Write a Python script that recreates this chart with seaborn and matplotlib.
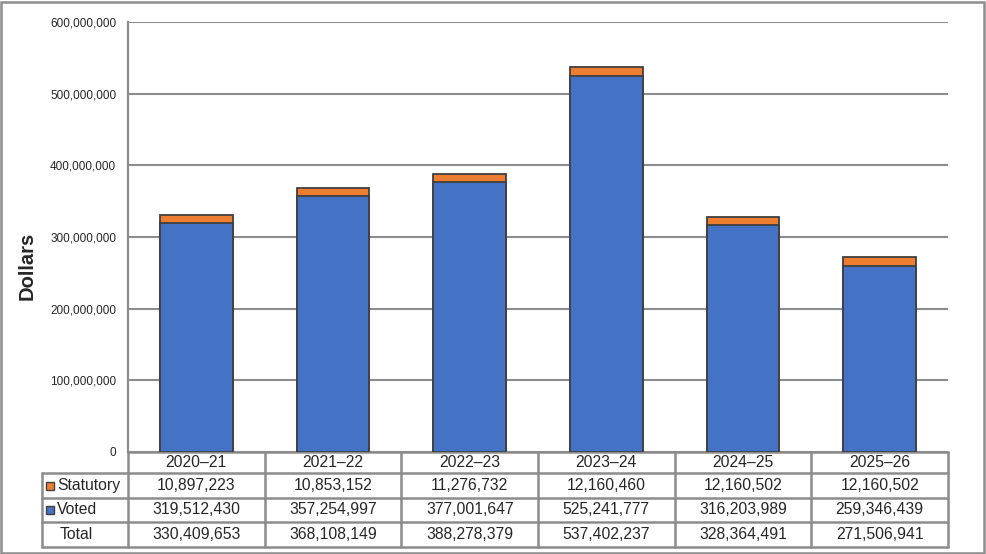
import numpy as np
import pandas as pd
import matplotlib
matplotlib.use("Agg")
import matplotlib.pyplot as plt
import matplotlib.patches as mpatches
from matplotlib.ticker import FuncFormatter
import seaborn as sns

years = ["2020–21", "2021–22", "2022–23", "2023–24", "2024–25", "2025–26"]
statutory = [10897223, 10853152, 11276732, 12160460, 12160502, 12160502]
voted = [319512430, 357254997, 377001647, 525241777, 316203989, 259346439]
totals = [330409653, 368108149, 388278379, 537402237, 328364491, 271506941]

blue = "#4472C4"
orange = "#ED7D31"
edge = "#404040"
grid_grey = "#8C8C8C"

sns.set_style("white")
plt.rcParams['font.family'] = ['Liberation Sans', 'DejaVu Sans']

df = pd.DataFrame({"year": years, "voted": voted, "total": totals})

fig = plt.figure(figsize=(9.86, 5.54), dpi=100)
ax = fig.add_axes([128 / 986, 1 - 452 / 554, 820 / 986, 430 / 554])

# stacked look: total in orange, voted in blue drawn over it
sns.barplot(data=df, x="year", y="total", color=orange, width=0.53,
            edgecolor=edge, linewidth=1.3, saturation=1, ax=ax, zorder=3)
sns.barplot(data=df, x="year", y="voted", color=blue, width=0.53,
            edgecolor=edge, linewidth=1.3, saturation=1, ax=ax, zorder=4)

ax.set_xlim(-0.5, len(years) - 0.5)
ax.set_ylim(0, 600_000_000)
ax.set_yticks(np.arange(0, 600_000_001, 100_000_000))
ax.yaxis.set_major_formatter(FuncFormatter(lambda v, p: f"{int(v):,}"))
ax.tick_params(axis="y", length=0, labelsize=8.5, pad=8.5)
ax.tick_params(axis="x", length=0, labelbottom=False)
ax.set_xlabel("")
ax.set_ylabel("")
ax.yaxis.grid(True, color=grid_grey, linewidth=1.5, zorder=0)
ax.set_axisbelow(True)
for side in ["top", "right", "bottom"]:
    ax.spines[side].set_visible(False)
ax.spines["left"].set_color(grid_grey)
ax.spines["left"].set_linewidth(1.6)

fig.text(27 / 986, 1 - 266 / 554, "Dollars", rotation=90, ha="center",
         va="center", fontsize=14.5, fontweight="bold")

# data table under the plot
trans = ax.get_xaxis_transform()
ax_h = 430.0
row_px = [452, 473, 498, 522, 547]
row_y = [(452 - p) / ax_h for p in row_px]
x_left_lbl = (42 - 128) / (820 / 6) - 0.5
line_kw = dict(color=grid_grey, linewidth=1.8, transform=trans, clip_on=False)

for b in np.arange(-0.5, len(years), 1.0):
    ax.plot([b, b], [row_y[0], row_y[-1]], **line_kw)
ax.plot([x_left_lbl, x_left_lbl], [row_y[1], row_y[-1]], **line_kw)
ax.plot([-0.5, len(years) - 0.5], [row_y[0], row_y[0]], **line_kw)
for y in row_y[1:]:
    ax.plot([x_left_lbl, len(years) - 0.5], [y, y], **line_kw)

rows = [statutory, voted, totals]
row_labels = ["Statutory", "Voted", "Total"]
row_colors = [orange, blue, None]
txt_kw = dict(transform=trans, ha="center", va="center", fontsize=11.3, clip_on=False)

for i, yr in enumerate(years):
    ax.text(i, (row_y[0] + row_y[1]) / 2, yr, **txt_kw)
for r, vals in enumerate(rows):
    yc = (row_y[r + 1] + row_y[r + 2]) / 2
    for i, v in enumerate(vals):
        ax.text(i, yc, f"{v:,}", **txt_kw)
    if row_colors[r] is not None:
        sq = mpatches.Rectangle((46 / 986, 1 - (row_px[r + 1] + row_px[r + 2]) / 2 / 554 - 4 / 554),
                                8 / 986, 8 / 554, transform=fig.transFigure,
                                facecolor=row_colors[r], edgecolor=edge, linewidth=1)
        fig.patches.append(sq)
        fig.text(57 / 986, 1 - (row_px[r + 1] + row_px[r + 2]) / 2 / 554, row_labels[r],
                 ha="left", va="center", fontsize=11.3)
    else:
        fig.text(60 / 986, 1 - (row_px[r + 1] + row_px[r + 2]) / 2 / 554, row_labels[r],
                 ha="left", va="center", fontsize=11.3)

# outer frame
fig.patches.append(mpatches.Rectangle((1 / 986, 1 / 554), 983 / 986, 551 / 554,
                                      transform=fig.transFigure, fill=False,
                                      edgecolor=grid_grey, linewidth=1.8))

fig.savefig("out.png", dpi=100)
